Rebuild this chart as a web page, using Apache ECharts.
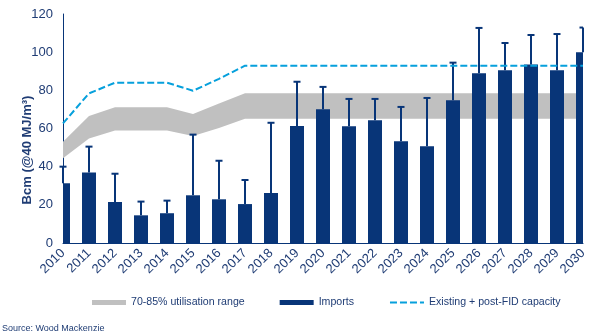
<!DOCTYPE html>
<html><head><meta charset="utf-8">
<script src="https://cdn.jsdelivr.net/npm/echarts@6/dist/echarts.min.js"></script>
<style>html,body{margin:0;padding:0;background:#fff}#c{width:602px;height:336px}</style>
</head><body><div id="c"></div>
<script>
const years = ['2010','2011','2012','2013','2014','2015','2016','2017','2018','2019','2020','2021','2022','2023','2024','2025','2026','2027','2028','2029','2030'];
const imports = [31.3, 37.0, 21.5, 14.5, 15.6, 25.0, 22.9, 20.4, 26.2, 61.3, 70.1, 61.2, 64.3, 53.3, 50.7, 74.8, 88.9, 90.5, 93.6, 90.5, 99.9];
const importsHigh = [40.0, 50.5, 36.3, 21.7, 22.2, 56.8, 43.1, 33.0, 63.0, 84.5, 81.8, 75.5, 75.5, 71.3, 76.0, 94.5, 112.7, 104.8, 109.0, 109.5, 112.9];
const bandLow = [44.4, 54.7, 58.9, 58.9, 58.9, 56.1, 60.2, 65.1, 65.1, 65.1, 65.1, 65.1, 65.1, 65.1, 65.1, 65.1, 65.1, 65.1, 65.1, 65.1, 65.1];
const bandHigh = [53.0, 66.6, 71.1, 71.1, 71.1, 67.6, 73.1, 78.5, 78.5, 78.5, 78.5, 78.5, 78.5, 78.5, 78.5, 78.5, 78.5, 78.5, 78.5, 78.5, 78.5];
const capacity = [62.7, 78.4, 84.0, 84.0, 84.0, 79.8, 86.0, 92.9, 92.9, 92.9, 92.9, 92.9, 92.9, 92.9, 92.9, 92.9, 92.9, 92.9, 92.9, 92.9, 92.9];
const yTicks = {min: 0, max: 120, interval: 20};

const NAVY = '#083578';
const TXT = '#1f3c74';
const FONT = '"Liberation Sans", Arial, sans-serif';

const chart = echarts.init(document.getElementById('c'), null, {renderer: 'canvas'});
const bandDiff = bandHigh.map((v, i) => +(v - bandLow[i]).toFixed(2));
const barData = imports.map((v, i) => [i, v]);
const errData = imports.map((v, i) => [i, v, importsHigh[i]]);

function clipTo(params, rect) {
  const cs = params.coordSys;
  return echarts.graphic.clipRectByRect(rect, {x: cs.x, y: cs.y, width: cs.width, height: cs.height});
}

chart.setOption({
  animation: false,
  backgroundColor: '#fff',
  textStyle: {fontFamily: FONT},
  grid: {left: 63, right: 19, top: 14, bottom: 93, containLabel: false},
  xAxis: {
    type: 'category', data: years, boundaryGap: false,
    axisLine: {show: true, lineStyle: {color: NAVY, width: 1}},
    axisTick: {show: false},
    axisLabel: {rotate: 45, interval: 0, color: TXT, fontSize: 13, fontFamily: FONT, margin: 8},
    splitLine: {show: false}
  },
  yAxis: {
    type: 'value', min: yTicks.min, max: yTicks.max, interval: yTicks.interval,
    axisLine: {show: true, lineStyle: {color: NAVY, width: 1}},
    axisTick: {show: false},
    axisLabel: {color: TXT, fontSize: 13, fontFamily: FONT, margin: 10},
    splitLine: {show: false}
  },
  legend: {
    left: 92, top: 297, padding: 0, itemWidth: 34, itemHeight: 5, itemGap: 35,
    textStyle: {color: TXT, fontSize: 10.6, fontFamily: FONT},
    data: [
      {name: '70-85% utilisation range', icon: 'rect', itemStyle: {color: '#c0c0c0'}},
      {name: 'Imports', icon: 'rect', itemStyle: {color: NAVY}},
      {name: 'Existing + post-FID capacity', itemStyle: {opacity: 0}}
    ]
  },
  graphic: [
    {type: 'text', x: 27.5, y: 150, rotation: Math.PI / 2,
     style: {text: 'Bcm (@40 MJ/m³)', fill: TXT, font: 'bold 13px ' + FONT, align: 'center', verticalAlign: 'middle'}},
    {type: 'text', x: 2, y: 329,
     style: {text: 'Source: Wood Mackenzie', fill: TXT, font: '9px ' + FONT, align: 'left', verticalAlign: 'middle'}}
  ],
  series: [
    {name: 'bandBase', type: 'line', stack: 'band', data: bandLow, symbol: 'none',
     lineStyle: {width: 0, opacity: 0}, silent: true, z: 1},
    {name: '70-85% utilisation range', type: 'line', stack: 'band', data: bandDiff, symbol: 'none',
     lineStyle: {width: 0, opacity: 0}, itemStyle: {color: '#c0c0c0'},
     areaStyle: {color: '#c0c0c0', opacity: 1}, z: 1},
    {name: 'Imports', type: 'custom', data: barData, z: 2, itemStyle: {color: NAVY},
     encode: {x: 0, y: 1},
     renderItem: function (params, api) {
       const p = api.coord([api.value(0), api.value(1)]);
       const base = api.coord([api.value(0), 0]);
       const w = 14;
       const shape = clipTo(params, {x: p[0] - w / 2, y: p[1], width: w, height: base[1] - p[1]});
       return shape && {type: 'rect', shape: shape, style: {fill: NAVY}};
     }},
    {name: 'err', type: 'custom', data: errData, z: 3,
     encode: {x: 0, y: [1, 2]},
     renderItem: function (params, api) {
       const x = api.value(0);
       const p0 = api.coord([x, api.value(1)]);
       const p1 = api.coord([x, api.value(2)]);
       const right = params.coordSys.x + params.coordSys.width;
       return {type: 'group', children: [
         {type: 'line', shape: {x1: p0[0], y1: p0[1], x2: p1[0], y2: p1[1]}, style: {stroke: NAVY, lineWidth: 2}},
         {type: 'line', shape: {x1: p1[0] - 3.5, y1: p1[1], x2: Math.min(p1[0] + 3.5, right), y2: p1[1]}, style: {stroke: NAVY, lineWidth: 2}}
       ]};
     }},
    {name: 'Existing + post-FID capacity', type: 'line', data: capacity, symbol: 'none',
     lineStyle: {color: '#06a0dc', width: 2, type: [7, 3]}, itemStyle: {color: '#06a0dc'}, z: 4}
  ]
});
</script></body></html>
